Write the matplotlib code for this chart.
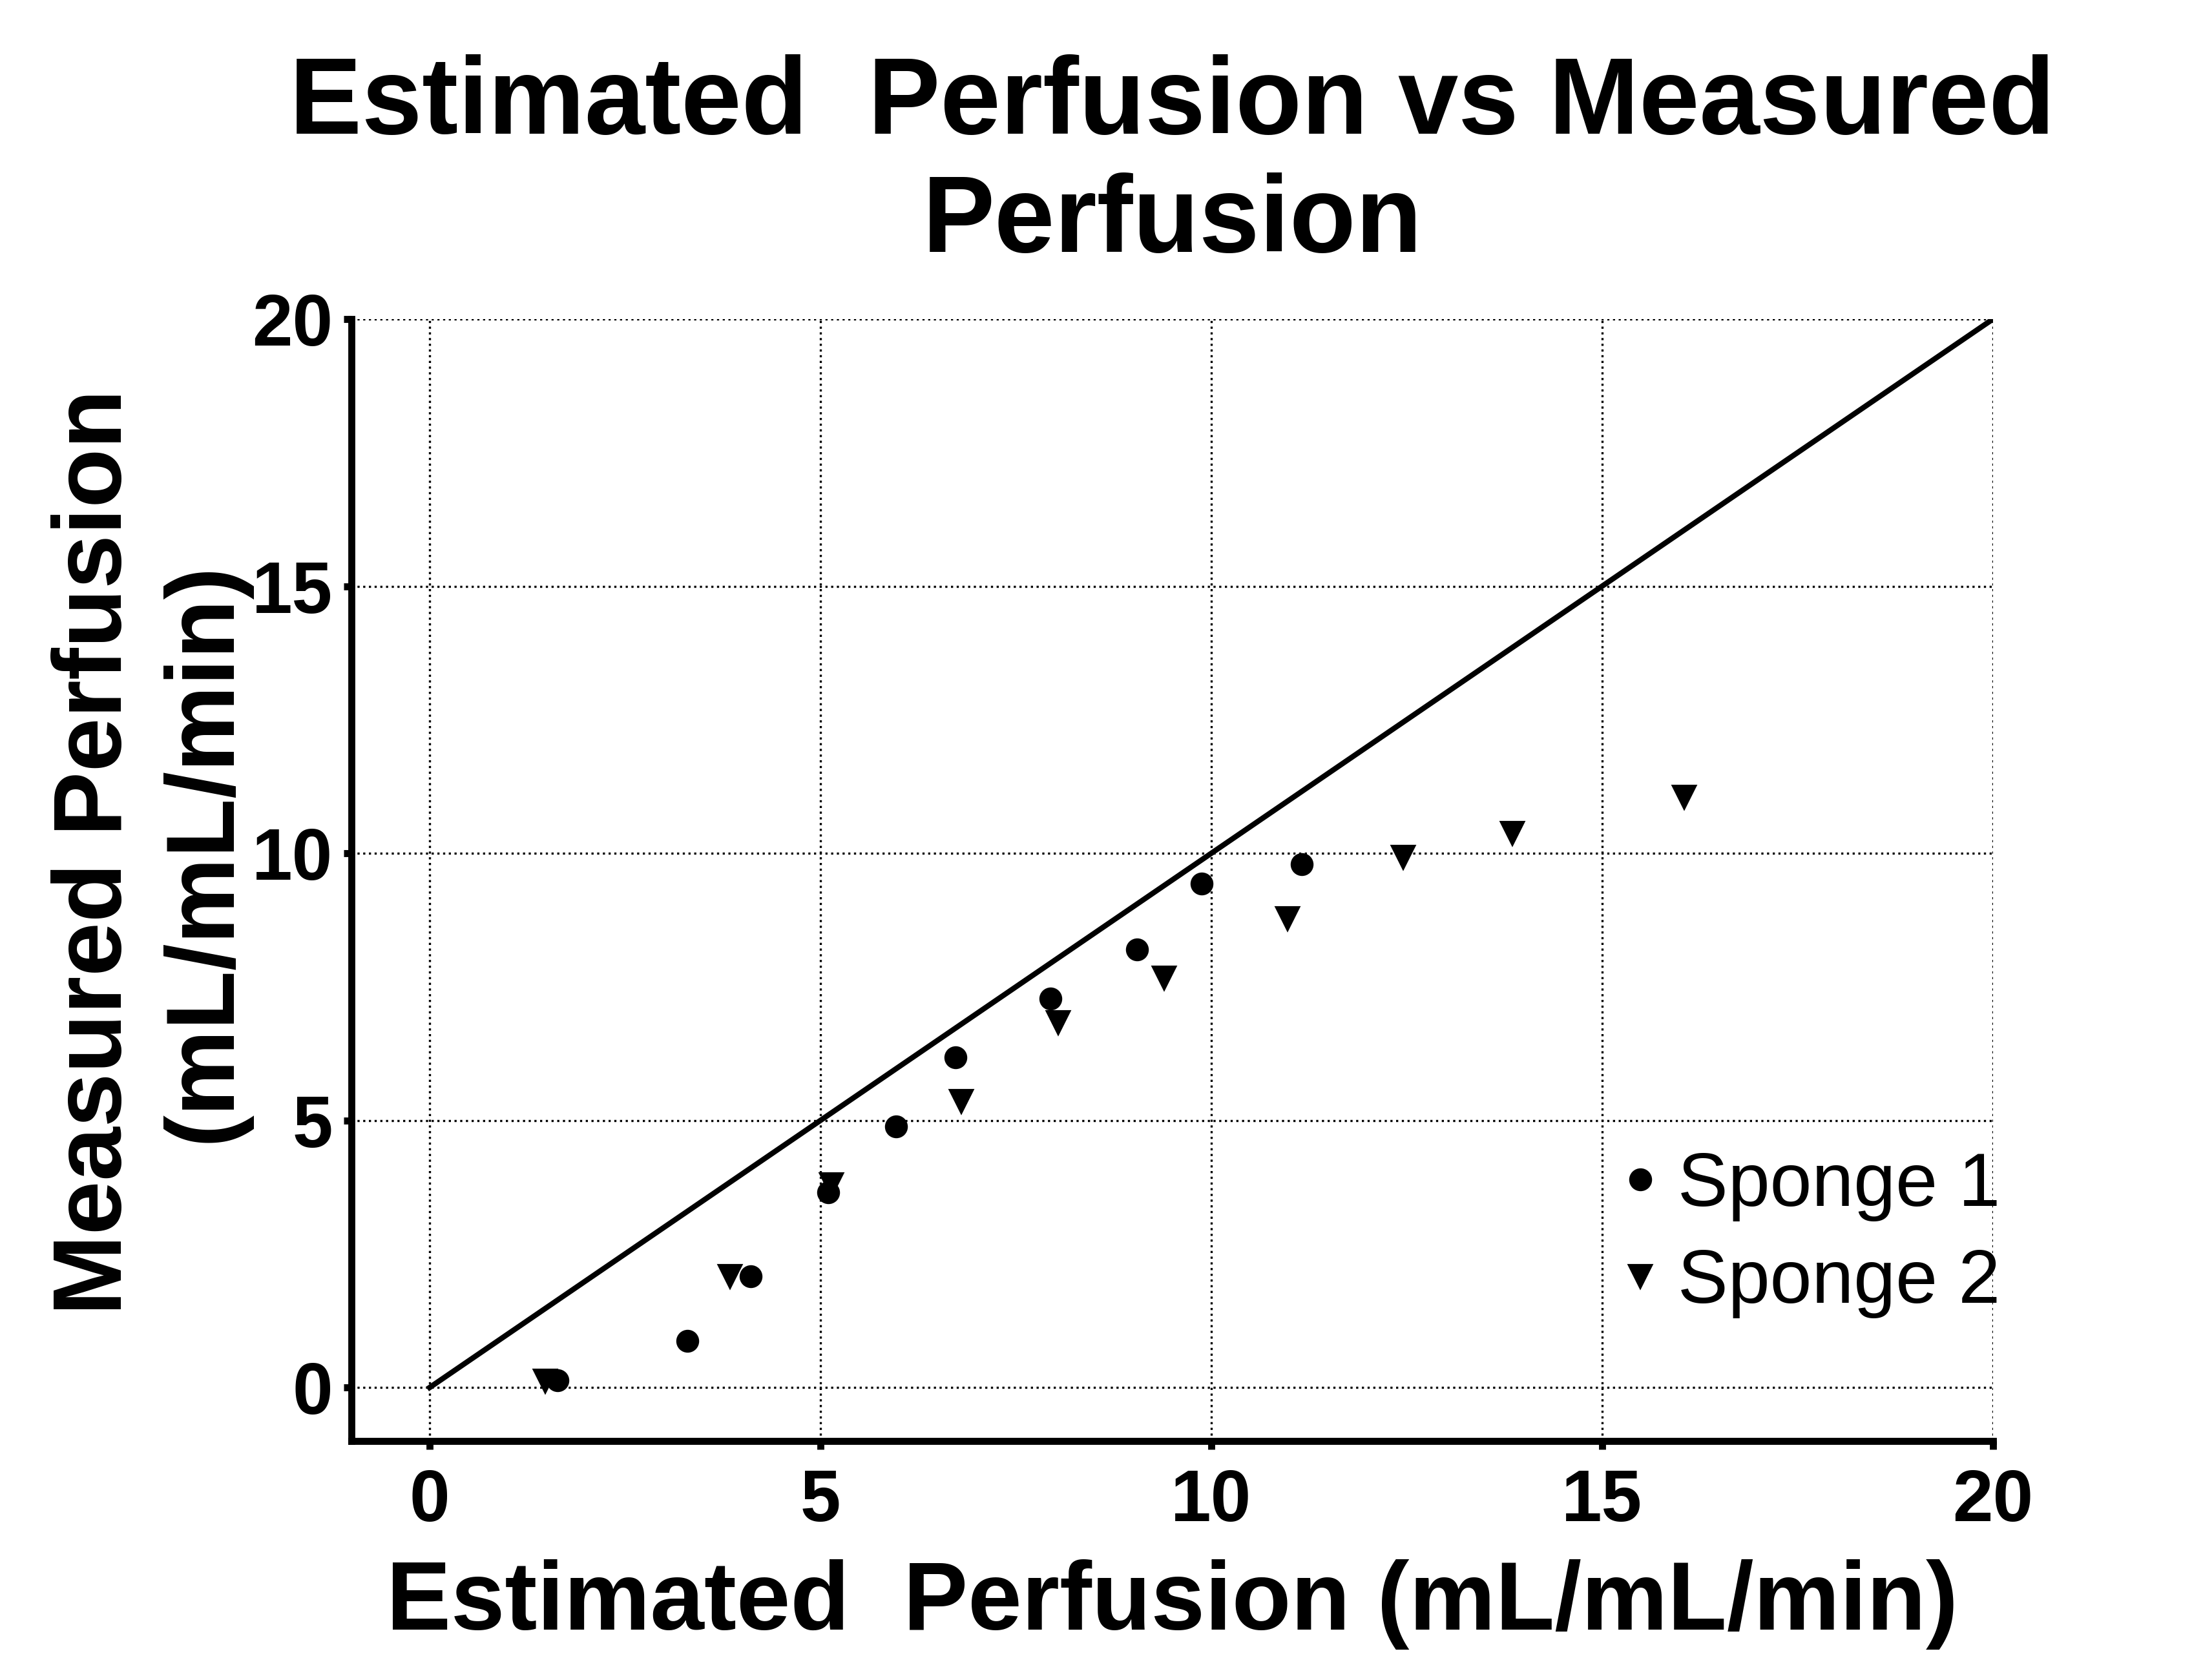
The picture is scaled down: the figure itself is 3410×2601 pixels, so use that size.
import matplotlib
matplotlib.use("Agg")
import matplotlib.pyplot as plt

# Sponge 1 (circles)
sponge1_est = [1.64, 3.30, 4.11, 5.10, 5.97, 6.73, 7.94, 9.05, 9.88, 11.16]
sponge1_meas = [0.13, 0.87, 2.08, 3.65, 4.89, 6.18, 7.28, 8.20, 9.43, 9.80]

# Sponge 2 (down triangles)
sponge2_est = [1.48, 3.84, 5.14, 6.80, 8.04, 9.40, 10.98, 12.46, 13.85, 16.05]
sponge2_meas = [0.12, 2.08, 3.80, 5.36, 6.83, 7.67, 8.78, 9.93, 10.38, 11.06]

identity = [0, 20]
ticks = [0, 5, 10, 15, 20]

plt.rcParams.update({
    "font.family": "Liberation Sans",
    "axes.linewidth": 2.6,
})

fig = plt.figure(figsize=(3411 / 300, 2601 / 300), dpi=300)
ax = fig.add_axes([0.1595, 0.1423, 0.7448, 0.6677])

ax.plot(identity, identity, color="black", linewidth=2.0, zorder=2)
ax.plot(sponge1_est, sponge1_meas, linestyle="none", marker="o", markersize=7.5,
        color="black", label="Sponge 1", zorder=3)
ax.plot(sponge2_est, sponge2_meas, linestyle="none", marker="v", markersize=8,
        color="black", label="Sponge 2", zorder=3)

ax.set_xlim(-1, 20)
ax.set_ylim(-1, 20)
ax.set_xticks(ticks)
ax.set_yticks(ticks)
ax.spines["top"].set_visible(False)
ax.spines["right"].set_visible(False)
ax.tick_params(axis="both", width=2.6, length=3, labelsize=27, pad=4)
for lab in ax.get_xticklabels() + ax.get_yticklabels():
    lab.set_fontweight("bold")
ax.tick_params(axis="x", pad=7)
ax.grid(True, linestyle=":", color="black", linewidth=0.8)
ax.set_axisbelow(True)

ax.set_xlabel("Estimated  Perfusion (mL/mL/min)", fontsize=36, fontweight="bold", labelpad=8.5)
ax.set_ylabel("Measured Perfusion\n(mL/mL/min)", fontsize=36, fontweight="bold",
              linespacing=1.25)
ax.yaxis.set_label_coords(-0.062, 0.525)
ax.set_title("Estimated  Perfusion vs Measured\nPerfusion", fontsize=40.3, fontweight="bold",
             linespacing=1.2, pad=25)

ax.legend(loc="lower right", bbox_to_anchor=(1.023, 0.0825), frameon=False, fontsize=28,
          handletextpad=0.1, labelspacing=0.35, handlelength=0.8, borderaxespad=0)

fig.savefig("out.png", dpi=300)
